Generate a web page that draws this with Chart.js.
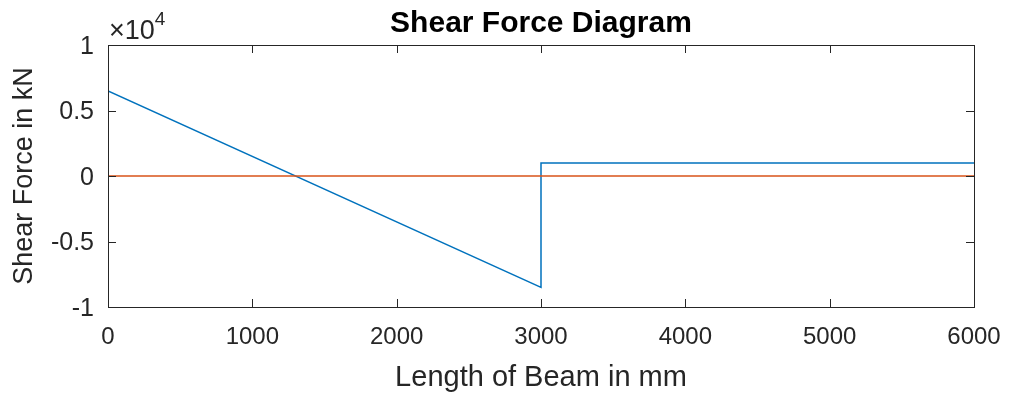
<!DOCTYPE html>
<html>
<head>
<meta charset="utf-8">
<title>Shear Force Diagram</title>
<script src="https://cdn.jsdelivr.net/npm/chart.js@4.4.1/dist/chart.umd.min.js"></script>
<style>
    html, body { margin: 0; padding: 0; background: #ffffff; }
    #wrap { width: 1009px; height: 394px; }
</style>
</head>
<body>
<div id="wrap"><canvas id="sfd" width="1009" height="394"></canvas></div>
<script>
// beam positions (mm) and shear values (kN)
const beamPos = [0, 3000, 3000, 6000];
const shearForce = [6500, -8500, 1000, 1000];
const zeroPos = [0, 6000];
const zeroLine = [0, 0];

const xTickValues = [0, 1000, 2000, 3000, 4000, 5000, 6000];
const yTickValues = [-10000, -5000, 0, 5000, 10000];
const yTickLabels = ['-1', '-0.5', '0', '0.5', '1'];

const FONT = '"Liberation Sans", Arial, Helvetica, sans-serif';
const TEXT = '#262626';

function toPoints(xs, ys) {
    return xs.map((x, i) => ({ x: x, y: ys[i] }));
}

// MATLAB style box with inward ticks, title over the axes and the x10^4 exponent
const matlabAxes = {
    id: 'matlabAxes',
    afterDatasetsDraw(chart) {
        const ctx = chart.ctx;
        const area = chart.chartArea;
        const xs = chart.scales.x;
        const ys = chart.scales.y;
        const tick = 8;

        ctx.save();
        ctx.strokeStyle = TEXT;
        ctx.lineWidth = 1;
        ctx.strokeRect(Math.round(area.left) + 0.5, Math.round(area.top) + 0.5,
            Math.round(area.right - area.left), Math.round(area.bottom - area.top));

        ctx.beginPath();
        xTickValues.forEach(v => {
            const px = Math.round(xs.getPixelForValue(v)) + 0.5;
            ctx.moveTo(px, area.bottom);
            ctx.lineTo(px, area.bottom - tick);
            ctx.moveTo(px, area.top);
            ctx.lineTo(px, area.top + tick);
        });
        yTickValues.forEach(v => {
            const py = Math.round(ys.getPixelForValue(v)) + 0.5;
            ctx.moveTo(area.left, py);
            ctx.lineTo(area.left + tick, py);
            ctx.moveTo(area.right, py);
            ctx.lineTo(area.right - tick, py);
        });
        ctx.stroke();

        // title, centred on the axes box
        ctx.fillStyle = '#000000';
        ctx.textBaseline = 'alphabetic';
        ctx.textAlign = 'center';
        ctx.font = 'bold 30px ' + FONT;
        ctx.fillText('Shear Force Diagram', (area.left + area.right) / 2, 32);

        // exponent label
        ctx.fillStyle = TEXT;
        ctx.textAlign = 'left';
        ctx.font = '27px ' + FONT;
        ctx.fillText('\u00d710', area.left + 1, 39);
        const w = ctx.measureText('\u00d710').width;
        ctx.font = '19px ' + FONT;
        ctx.fillText('4', area.left + 1 + w, 25);
        ctx.restore();
    }
};

new Chart(document.getElementById('sfd'), {
    type: 'line',
    data: {
        datasets: [
            {
                label: 'Shear force',
                data: toPoints(beamPos, shearForce),
                borderColor: '#0072BD',
                borderWidth: 1.5,
                pointRadius: 0,
                tension: 0,
                order: 1
            },
            {
                label: 'Zero',
                data: toPoints(zeroPos, zeroLine),
                borderColor: '#D95319',
                borderWidth: 1.5,
                pointRadius: 0,
                tension: 0,
                order: 0
            }
        ]
    },
    options: {
        responsive: false,
        animation: false,
        layout: { padding: { left: 0, right: 35, top: 45, bottom: 0 } },
        plugins: {
            legend: { display: false },
            tooltip: { enabled: false },
            title: { display: false }
        },
        scales: {
            x: {
                type: 'linear',
                min: 0,
                max: 6000,
                afterFit: s => {
                    s.height = 87;
                    s.paddingLeft = 0;
                    s.paddingRight = 0;
                },
                grid: { display: false, drawTicks: false },
                border: { display: false },
                ticks: {
                    stepSize: 1000,
                    color: TEXT,
                    padding: 16,
                    maxRotation: 0,
                    font: { family: FONT, size: 24 },
                    callback: v => String(v)
                },
                title: {
                    display: true,
                    text: 'Length of Beam in mm',
                    color: TEXT,
                    font: { family: FONT, size: 29, lineHeight: 1 },
                    padding: { top: 0, bottom: 2 }
                }
            },
            y: {
                type: 'linear',
                min: -10000,
                max: 10000,
                afterFit: s => {
                    s.width = 108;
                    s.paddingTop = 0;
                    s.paddingBottom = 0;
                },
                grid: { display: false, drawTicks: false },
                border: { display: false },
                ticks: {
                    stepSize: 5000,
                    color: TEXT,
                    padding: 14,
                    labelOffset: 2,
                    font: { family: FONT, size: 25 },
                    callback: v => {
                        const i = yTickValues.indexOf(v);
                        return i >= 0 ? yTickLabels[i] : '';
                    }
                },
                title: {
                    display: true,
                    text: 'Shear Force in kN',
                    color: TEXT,
                    font: { family: FONT, size: 27, lineHeight: 1.2 },
                    padding: { top: 8, bottom: 0 }
                }
            }
        }
    },
    plugins: [matlabAxes]
});
</script>
</body>
</html>
